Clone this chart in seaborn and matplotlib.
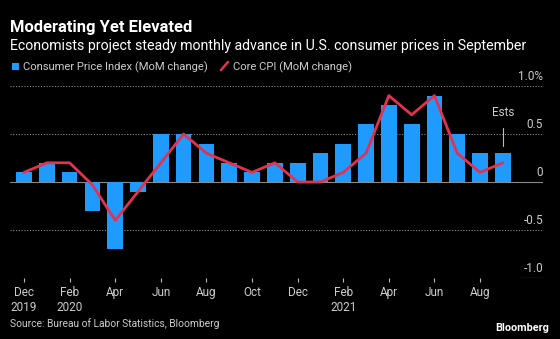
import matplotlib
matplotlib.use("Agg")
import matplotlib.pyplot as plt
import matplotlib.transforms as mtransforms
from matplotlib.patches import Rectangle
from matplotlib.lines import Line2D
import seaborn as sns
import numpy as np
import pandas as pd

months = ["Dec 2019", "Jan 2020", "Feb 2020", "Mar 2020", "Apr 2020", "May 2020",
          "Jun 2020", "Jul 2020", "Aug 2020", "Sep 2020", "Oct 2020", "Nov 2020",
          "Dec 2020", "Jan 2021", "Feb 2021", "Mar 2021", "Apr 2021", "May 2021",
          "Jun 2021", "Jul 2021", "Aug 2021", "Sep 2021"]
cpi = [0.1, 0.2, 0.1, -0.3, -0.7, -0.1, 0.5, 0.5, 0.4, 0.2, 0.1, 0.2,
       0.2, 0.3, 0.4, 0.6, 0.8, 0.6, 0.9, 0.5, 0.3, 0.3]
core = [0.1, 0.2, 0.2, -0.03, -0.4, -0.1, 0.2, 0.5, 0.3, 0.2, 0.1, 0.2,
        0.0, 0.0, 0.1, 0.3, 0.9, 0.7, 0.9, 0.3, 0.1, 0.2]
tick_labels = ["Dec\n2019", "Feb\n2020", "Apr", "Jun", "Aug", "Oct", "Dec",
               "Feb\n2021", "Apr", "Jun", "Aug"]
y_ticks = [1.0, 0.5, 0.0, -0.5, -1.0]
y_tick_labels = ["1.0%", "0.5", "0", "-0.5", "-1.0"]

BLUE = "#1f9bff"
RED = "#e2324f"
BG = "#000000"
TXT = "#cccccc"
FONT = ["Roboto", "DejaVu Sans"]

sns.set_theme(style="dark")
plt.rcParams["font.family"] = FONT

df = pd.DataFrame({"idx": np.arange(len(months)), "month": months,
                   "cpi": cpi, "core": core})

W, H = 560, 339
fig = plt.figure(figsize=(W / 100, H / 100), dpi=100, facecolor=BG)
ax = fig.add_axes([10 / W, (H - 278) / H, (543 - 10) / W, (278 - 86) / H])
ax.set_facecolor(BG)

sns.barplot(data=df, x="idx", y="cpi", native_scale=True, width=0.69,
            color=BLUE, saturation=1, ax=ax, zorder=3, errorbar=None,
            edgecolor="none", linewidth=0)
sns.lineplot(data=df, x="idx", y="core", color=RED, linewidth=2.0, ax=ax,
             zorder=4)

ax.set_xlim(-0.614, 22.76)
ax.set_ylim(-1.0, 1.0)
ax.grid(False)
for s in ax.spines.values():
    s.set_visible(False)

# gridlines
for v in [1.0, 0.5, -0.5]:
    ax.axhline(v, color="#8a8a8a", linewidth=0.8, linestyle=(0, (1, 1.5)), zorder=1)
ax.axhline(0.0, color="#8a8a8a", linewidth=0.8, zorder=2)
ax.axhline(-1.0, xmin=0.956, xmax=1.0, color="#bbbbbb", linewidth=0.8, zorder=2)

# y labels on the right, above the lines
trans = mtransforms.blended_transform_factory(ax.transAxes, ax.transData)
for v, lab in zip(y_ticks, y_tick_labels):
    ax.text(1.0, v, lab, transform=trans + mtransforms.ScaledTranslation(0, 3 / 100, fig.dpi_scale_trans),
            ha="right", va="bottom", color=TXT, fontsize=8.5)
ax.set_yticks([])
ax.set_ylabel("")
ax.set_xlabel("")

ax.set_xticks(np.arange(0, 22, 2))
ax.set_xticklabels(tick_labels, color=TXT, fontsize=8.5, linespacing=1.2)
ax.tick_params(axis="x", direction="out", length=3, width=0.8, color="#bbbbbb",
               pad=3, bottom=True)

# Ests annotation
ax.text(21, 0.66, "Ests", ha="center", va="bottom", color=TXT, fontsize=8.5)
ax.plot([21, 21], [0.37, 0.56], color="#bbbbbb", linewidth=0.8, zorder=5)

# titles
def fy(y):
    return (H - y) / H

fig.text(10 / W, fy(32), "Moderating Yet Elevated", color="white",
         fontsize=11.9, fontweight="bold", ha="left", va="baseline")
fig.text(10 / W, fy(50), "Economists project steady monthly advance in U.S. consumer prices in September",
         color="white", fontsize=10.2, ha="left", va="baseline")

# legend
fig.patches.append(Rectangle((12 / W, fy(70)), 7 / W, 7 / H, transform=fig.transFigure,
                             facecolor=BLUE, edgecolor="none"))
fig.text(23 / W, fy(70), "Consumer Price Index (MoM change)", color=TXT,
         fontsize=8.1, ha="left", va="baseline")
fig.lines.append(Line2D([221 / W, 228 / W], [fy(70), fy(62)], transform=fig.transFigure,
                        color=RED, linewidth=1.8))
fig.text(233 / W, fy(70), "Core CPI (MoM change)", color=TXT,
         fontsize=8.1, ha="left", va="baseline")

# footer
fig.text(10 / W, fy(327), "Source: Bureau of Labor Statistics, Bloomberg", color=TXT,
         fontsize=7.4, ha="left", va="baseline")
fig.text(549 / W, fy(331), "Bloomberg", color="white", fontsize=7.8,
         fontweight="bold", ha="right", va="baseline")

fig.savefig("out.png", dpi=100, facecolor=BG)
